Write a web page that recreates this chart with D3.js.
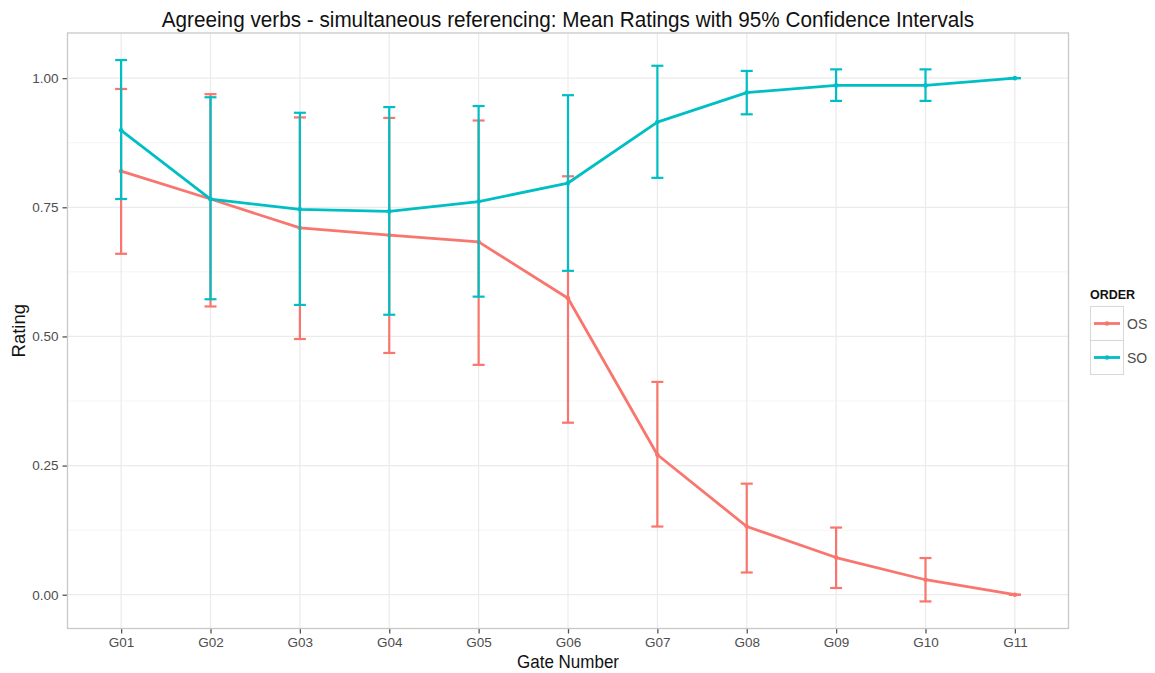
<!DOCTYPE html>
<html>
<head>
<meta charset="utf-8">
<script src="https://cdn.jsdelivr.net/npm/d3@7/dist/d3.min.js"></script>
<style>
  html, body { margin: 0; padding: 0; background: #fff; }
  svg { display: block; }
  text { font-family: "Liberation Sans", Arial, sans-serif; }
</style>
</head>
<body>
<svg id="chart" width="1155" height="673"></svg>
<script>
const gates = ["G01","G02","G03","G04","G05","G06","G07","G08","G09","G10","G11"];
const seriesNames = ["OS","SO"];
const osMean  = [0.820,0.766,0.710,0.696,0.683,0.574,0.271,0.132,0.072,0.029,0.000];
const osLower = [0.660,0.558,0.495,0.468,0.445,0.333,0.132,0.043,0.013,-0.013,0.000];
const osUpper = [0.979,0.969,0.924,0.923,0.918,0.810,0.412,0.215,0.130,0.071,0.000];
const soMean  = [0.899,0.766,0.746,0.742,0.761,0.797,0.915,0.972,0.986,0.986,1.000];
const soLower = [0.766,0.572,0.561,0.542,0.577,0.627,0.807,0.930,0.956,0.956,1.000];
const soUpper = [1.035,0.963,0.933,0.944,0.946,0.967,1.024,1.014,1.017,1.017,1.000];
const yTicks = [0, 0.25, 0.5, 0.75, 1.0];
const yMinor = [0.125, 0.375, 0.625, 0.875];
const titleText = "Agreeing verbs - simultaneous referencing: Mean Ratings with 95% Confidence Intervals";
const colors = {OS: "#F8766D", SO: "#00BFC4"};

const series = [
  {name: "OS", mean: osMean, lo: osLower, hi: osUpper},
  {name: "SO", mean: soMean, lo: soLower, hi: soUpper}
];

const svg = d3.select("#chart");
const P = {left: 67.5, right: 1068.5, top: 33, bottom: 628.5};

const x = d3.scalePoint().domain(gates).range([P.left, P.right]).padding(0.6);
const allVals = [].concat(osLower, osUpper, soLower, soUpper);
const ext = d3.extent(allVals);
const pad = (ext[1] - ext[0]) * 0.05;
const y = d3.scaleLinear().domain([ext[0] - pad, ext[1] + pad]).range([P.bottom, P.top]);

svg.append("rect").attr("x", P.left).attr("y", P.top)
  .attr("width", P.right - P.left).attr("height", P.bottom - P.top)
  .attr("fill", "#fff");

const g = svg.append("g");
g.selectAll(".minor").data(yMinor).join("line")
  .attr("x1", P.left).attr("x2", P.right)
  .attr("y1", d => y(d)).attr("y2", d => y(d))
  .attr("stroke", "#f4f4f4").attr("stroke-width", 1);
g.selectAll(".majy").data(yTicks).join("line")
  .attr("x1", P.left).attr("x2", P.right)
  .attr("y1", d => y(d)).attr("y2", d => y(d))
  .attr("stroke", "#ebebeb").attr("stroke-width", 1.2);
g.selectAll(".majx").data(gates).join("line")
  .attr("y1", P.top).attr("y2", P.bottom)
  .attr("x1", d => x(d)).attr("x2", d => x(d))
  .attr("stroke", "#ebebeb").attr("stroke-width", 1.2);

const yAxis = svg.append("g").attr("transform", `translate(${P.left},0)`)
  .call(d3.axisLeft(y).tickValues(yTicks).tickFormat(d3.format(".2f")).tickSize(5).tickPadding(4));
const xAxis = svg.append("g").attr("transform", `translate(0,${P.bottom})`)
  .call(d3.axisBottom(x).tickSize(5).tickPadding(4));
[yAxis, xAxis].forEach(a => {
  a.select(".domain").remove();
  a.selectAll(".tick line").attr("stroke", "#555").attr("stroke-width", 1.3);
  a.selectAll(".tick text").attr("fill", "#4d4d4d").style("font-size", "13.5px")
    .style("font-family", '"Liberation Sans", Arial, sans-serif');
});

const line = d3.line().x((d, i) => x(gates[i])).y(d => y(d));
series.forEach(s => {
  const c = colors[s.name];
  const eg = svg.append("g");
  eg.selectAll("line.v").data(gates).join("line")
    .attr("x1", d => x(d)).attr("x2", d => x(d))
    .attr("y1", (d, i) => y(s.lo[i])).attr("y2", (d, i) => y(s.hi[i]))
    .attr("stroke", c).attr("stroke-width", 2.2);
  ["lo", "hi"].forEach(k => {
    eg.selectAll("line.c" + k).data(gates).join("line")
      .attr("x1", d => x(d) - 6).attr("x2", d => x(d) + 6)
      .attr("y1", (d, i) => y(s[k][i])).attr("y2", (d, i) => y(s[k][i]))
      .attr("stroke", c).attr("stroke-width", 2.2);
  });
  svg.append("path").datum(s.mean).attr("d", line)
    .attr("fill", "none").attr("stroke", c).attr("stroke-width", 2.8)
    .attr("stroke-linejoin", "round");
  svg.append("g").selectAll("circle").data(s.mean).join("circle")
    .attr("cx", (d, i) => x(gates[i])).attr("cy", d => y(d)).attr("r", 2.3)
    .attr("fill", c);
});

svg.append("rect").attr("x", P.left).attr("y", P.top)
  .attr("width", P.right - P.left).attr("height", P.bottom - P.top)
  .attr("fill", "none").attr("stroke", "#c8c8c8").attr("stroke-width", 1.3);

// title
const t = svg.append("text").attr("transform", `translate(${(P.left + P.right) / 2},27) scale(1,1.08)`)
  .attr("text-anchor", "middle").attr("fill", "#111").style("font-size", "20px").text(titleText);
const tl = t.node().getComputedTextLength();
t.style("font-size", (20 * 812 / tl).toFixed(2) + "px");

// axis titles
svg.append("text").attr("transform", `translate(${(P.left + P.right) / 2},668) scale(1,1.08)`)
  .attr("text-anchor", "middle").attr("fill", "#111").style("font-size", "17px").text("Gate Number");
svg.append("text").attr("transform", `translate(24.5,${(P.top + P.bottom) / 2}) rotate(-90)`)
  .attr("text-anchor", "middle").attr("fill", "#111").style("font-size", "18.5px").text("Rating");

// legend
const L = svg.append("g");
L.append("text").attr("x", 1090).attr("y", 299).attr("fill", "#111")
  .style("font-size", "12.5px").style("font-weight", "bold").text("ORDER");
seriesNames.forEach((n, i) => {
  const y0 = 306.5 + i * 34;
  L.append("rect").attr("x", 1090.5).attr("y", y0).attr("width", 33).attr("height", 34)
    .attr("fill", "#fff").attr("stroke", "#d9d9d9").attr("stroke-width", 1.1);
  L.append("line").attr("x1", 1094).attr("x2", 1120).attr("y1", y0 + 17).attr("y2", y0 + 17)
    .attr("stroke", colors[n]).attr("stroke-width", 2.8);
  L.append("circle").attr("cx", 1107).attr("cy", y0 + 17).attr("r", 2.3).attr("fill", colors[n]);
  L.append("text").attr("x", 1127).attr("y", y0 + 22).attr("fill", "#4d4d4d")
    .style("font-size", "14px").text(n);
});
</script>
</body>
</html>
